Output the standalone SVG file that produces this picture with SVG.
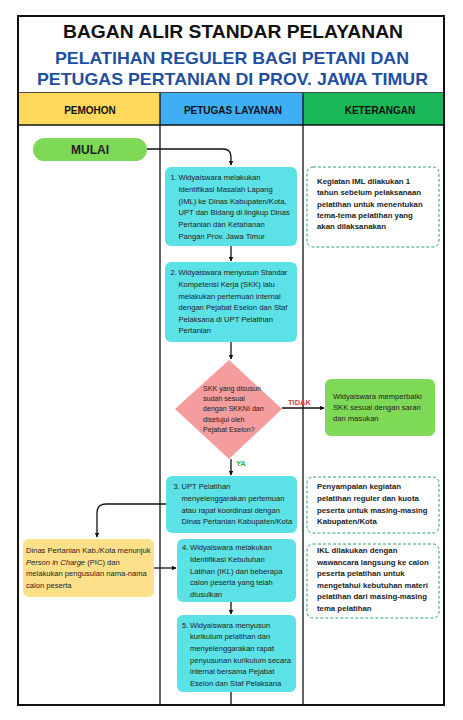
<svg xmlns="http://www.w3.org/2000/svg" width="463" height="720" viewBox="0 0 463 720">
<defs>
<marker id="ah" viewBox="0 0 10 10" refX="9" refY="5" markerWidth="5" markerHeight="5" orient="auto-start-reverse" markerUnits="userSpaceOnUse">
<path d="M0,0 L10,5 L0,10 z" fill="#111"/>
</marker>
<style>
text{font-family:"Liberation Sans",Arial,sans-serif;}
.t{font-size:7.6px;fill:#222;}
.k{font-size:7.8px;font-weight:bold;fill:#222;}
.d{font-size:7.1px;fill:#222;}
.h{font-size:10px;font-weight:bold;fill:#111;text-anchor:middle;}
.cy{fill:#5ce1e6;}
.conn{stroke:#111;stroke-width:1.3;fill:none;}
.note{fill:#fff;stroke:#2fa36b;stroke-width:1;stroke-dasharray:3 2;}
</style>
</defs>
<rect width="463" height="720" fill="#fff"/>

<g id="frame">
<rect x="18" y="16" width="426" height="689" fill="none" stroke="#111" stroke-width="2"/>
<line x1="18" y1="93" x2="444" y2="93" stroke="#111" stroke-width="1.5"/>
<rect x="19" y="93" width="141" height="32" fill="#ffd95c"/>
<rect x="160" y="93" width="143" height="32" fill="#3eaef5"/>
<rect x="303" y="93" width="140" height="32" fill="#1bb85a"/>
<line x1="18" y1="125" x2="444" y2="125" stroke="#111" stroke-width="1.5"/>
<line x1="160" y1="93" x2="160" y2="705" stroke="#111" stroke-width="1.3"/>
<line x1="303" y1="93" x2="303" y2="705" stroke="#111" stroke-width="1.3"/>
</g>

<g id="title">
<text x="233" y="38" text-anchor="middle" font-size="19" font-weight="bold" fill="#111" textLength="340" lengthAdjust="spacingAndGlyphs">BAGAN ALIR STANDAR PELAYANAN</text>
<text x="232" y="64" text-anchor="middle" font-size="17" font-weight="bold" fill="#1f4fa0" textLength="354" lengthAdjust="spacingAndGlyphs">PELATIHAN REGULER BAGI PETANI DAN</text>
<text x="232.5" y="85" text-anchor="middle" font-size="17" font-weight="bold" fill="#1f4fa0" textLength="391" lengthAdjust="spacingAndGlyphs">PETUGAS PERTANIAN DI PROV. JAWA TIMUR</text>
</g>

<g id="headers">
<text class="h" x="90" y="114">PEMOHON</text>
<text class="h" x="233" y="114">PETUGAS LAYANAN</text>
<text class="h" x="380" y="114">KETERANGAN</text>
</g>

<g id="connectors">
<path class="conn" d="M147,149 H223 Q231,149 231,157 V165" marker-end="url(#ah)"/>
<path class="conn" d="M231,246 V261" marker-end="url(#ah)"/>
<path class="conn" d="M231,342 V359" marker-end="url(#ah)"/>
<path class="conn" d="M282,408 H324" marker-end="url(#ah)"/>
<path class="conn" d="M231,459 V475" marker-end="url(#ah)"/>
<path class="conn" d="M166,504 H106 Q97,504 97,513 V537" marker-end="url(#ah)"/>
<path class="conn" d="M154,568 H176" marker-end="url(#ah)"/>
<path class="conn" d="M231,602 V614" marker-end="url(#ah)"/>
<path class="conn" d="M231,692 V705"/>
<text x="288" y="405" font-size="7.5" font-weight="bold" fill="#e0403a">TIDAK</text>
<text x="236" y="466" font-size="7.5" font-weight="bold" fill="#1bb85a">YA</text>
</g>

<g id="mulai">
<rect x="33" y="138" width="114" height="23" rx="11.5" fill="#7ed957"/>
<text x="90" y="154" text-anchor="middle" font-size="12" font-weight="bold" fill="#222">MULAI</text>
</g>

<g id="step1">
<rect class="cy" x="165" y="167" width="132" height="79" rx="6"/>
<text class="t" x="170.5" y="180">1.</text>
<text class="t" x="178.5" y="180">Widyaiswara melakukan</text>
<text class="t" x="178.5" y="192">Identifikasi Masalah Lapang</text>
<text class="t" x="178.5" y="204">(IML) ke Dinas Kabupaten/Kota,</text>
<text class="t" x="178.5" y="215">UPT dan Bidang di lingkup Dinas</text>
<text class="t" x="178.5" y="227">Pertanian dan Ketahanan</text>
<text class="t" x="178.5" y="239">Pangan Prov. Jawa Timur</text>
</g>

<g id="note1">
<rect class="note" x="307" y="167" width="132" height="80" rx="6"/>
<text class="k" x="317" y="184">Kegiatan IML dilakukan 1</text>
<text class="k" x="317" y="195">tahun sebelum pelaksanaan</text>
<text class="k" x="317" y="207">pelatihan untuk menentukan</text>
<text class="k" x="317" y="218">tema-tema pelatihan yang</text>
<text class="k" x="317" y="229">akan dilaksanakan</text>
</g>

<g id="step2">
<rect class="cy" x="165" y="262" width="132" height="80" rx="6"/>
<text class="t" x="170.5" y="275">2.</text>
<text class="t" x="178.5" y="275">Widyaiswara menyusun Standar</text>
<text class="t" x="178.5" y="287">Kompetensi Kerja (SKK) lalu</text>
<text class="t" x="178.5" y="299">melakukan pertemuan internal</text>
<text class="t" x="178.5" y="310">dengan Pejabat Eselon dan Staf</text>
<text class="t" x="178.5" y="322">Pelaksana di UPT Pelatihan</text>
<text class="t" x="178.5" y="333">Pertanian</text>
</g>

<g id="decision">
<polygon points="229,360 282,409 229,459 175,409" fill="#f59c9c"/>
<text class="d" x="203" y="391">SKK yang disusun</text>
<text class="d" x="203" y="401">sudah sesuai</text>
<text class="d" x="203" y="411">dengan SKKNI dan</text>
<text class="d" x="203" y="422">disetujui oleh</text>
<text class="d" x="203" y="432">Pejabat Eselon?</text>
</g>

<g id="fix">
<rect x="325" y="379" width="110" height="57" rx="6" fill="#7ed957"/>
<text class="t" x="333" y="399">Widyaiswara memperbaiki</text>
<text class="t" x="333" y="410">SKK sesuai dengan saran</text>
<text class="t" x="333" y="421">dan masukan</text>
</g>

<g id="step3">
<rect class="cy" x="166" y="476" width="131" height="57" rx="6"/>
<text class="t" x="173.5" y="489">3.</text>
<text class="t" x="181.5" y="489">UPT Pelatihan</text>
<text class="t" x="181.5" y="501">menyelenggarakan pertemuan</text>
<text class="t" x="181.5" y="513">atau rapat koordinasi dengan</text>
<text class="t" x="181.5" y="524">Dinas Pertanian Kabupaten/Kota</text>
</g>

<g id="note2">
<rect class="note" x="307" y="477" width="132" height="56" rx="6"/>
<text class="k" x="317" y="489">Penyampaian kegiatan</text>
<text class="k" x="317" y="501">pelatihan reguler dan kuota</text>
<text class="k" x="317" y="513">peserta untuk masing-masing</text>
<text class="k" x="317" y="524">Kabupaten/Kota</text>
</g>

<g id="pemohon">
<rect x="23" y="539" width="131" height="58" rx="6" fill="#ffe08a"/>
<text class="t" x="26" y="553">Dinas Pertanian Kab./Kota menunjuk</text>
<text class="t" x="26" y="565"><tspan font-style="italic">Person in Charge</tspan> (PIC) dan</text>
<text class="t" x="26" y="576">melakukan pengusulan nama-nama</text>
<text class="t" x="26" y="588">calon peserta</text>
</g>

<g id="step4">
<rect class="cy" x="177" y="539" width="119" height="63" rx="6"/>
<text class="t" x="182" y="550">4.</text>
<text class="t" x="190" y="550">Widyaiswara melakukan</text>
<text class="t" x="190" y="562">Identifikasi Kebutuhan</text>
<text class="t" x="190" y="574">Latihan (IKL) dari beberapa</text>
<text class="t" x="190" y="585">calon peserta yang telah</text>
<text class="t" x="190" y="597">diusulkan</text>
</g>

<g id="note3">
<rect class="note" x="307" y="544" width="132" height="74" rx="6"/>
<text class="k" x="317" y="553">IKL dilakukan dengan</text>
<text class="k" x="317" y="565">wawancara langsung ke calon</text>
<text class="k" x="317" y="576">peserta pelatihan untuk</text>
<text class="k" x="317" y="588">mengetahui kebutuhan materi</text>
<text class="k" x="317" y="599">pelatihan dari masing-masing</text>
<text class="k" x="317" y="611">tema pelatihan</text>
</g>

<g id="step5">
<rect class="cy" x="177" y="615" width="119" height="77" rx="6"/>
<text class="t" x="182" y="628">5.</text>
<text class="t" x="190" y="628">Widyaiswara menyusun</text>
<text class="t" x="190" y="639">kurikulum pelatihan dan</text>
<text class="t" x="190" y="651">menyelenggarakan rapat</text>
<text class="t" x="190" y="663">penyusunan kurikulum secara</text>
<text class="t" x="190" y="674">internal bersama Pejabat</text>
<text class="t" x="190" y="686">Eselon dan Staf Pelaksana</text>
</g>
</svg>
